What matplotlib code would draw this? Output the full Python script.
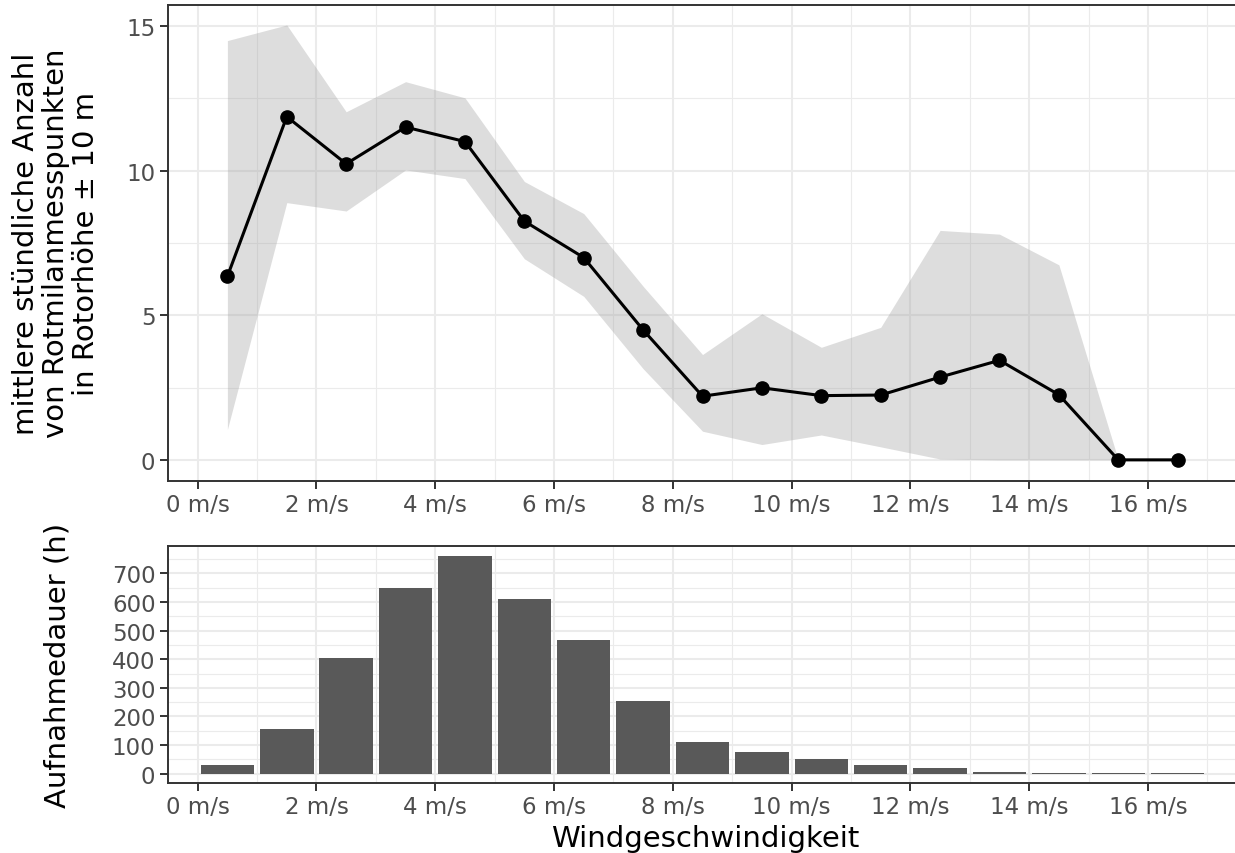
import numpy as np
import matplotlib
matplotlib.use('Agg')
import matplotlib.pyplot as plt
from matplotlib.ticker import MultipleLocator, FixedLocator

# wind speed classes (bin centres, m/s)
wind = [0.5, 1.5, 2.5, 3.5, 4.5, 5.5, 6.5, 7.5, 8.5, 9.5, 10.5, 11.5, 12.5, 13.5, 14.5, 15.5, 16.5]
mean_points = [6.34, 11.86, 10.23, 11.5, 11.0, 8.25, 6.99, 4.49, 2.2, 2.49, 2.22, 2.24, 2.86, 3.44, 2.25, 0.0, 0.0]
ci_upper = [14.49, 15.03, 12.03, 13.07, 12.51, 9.62, 8.51, 6.0, 3.64, 5.05, 3.89, 4.58, 7.93, 7.8, 6.74, 0.0, 0.0]
ci_lower = [1.05, 8.89, 8.6, 10.02, 9.72, 6.95, 5.65, 3.15, 0.99, 0.53, 0.86, 0.45, 0.03, 0.0, 0.0, 0.0, 0.0]
hours = [30, 155, 404, 648, 760, 609, 468, 254, 112, 75, 52, 31, 19, 6, 2.3, 1.2, 1.0]

xticks = [0, 2, 4, 6, 8, 10, 12, 14, 16]
xticklabels = [f'{v} m/s' for v in xticks]

plt.rcParams['font.family'] = ['DejaVu Sans']

W, H = 1235, 854
fig = plt.figure(figsize=(W / 100, H / 100), dpi=100)

ax_left = 168 / W
ax_width = 1075 / W
ax1 = fig.add_axes([ax_left, 1 - 481.7 / H, ax_width, 476 / H])
ax2 = fig.add_axes([ax_left, 1 - 783.7 / H, ax_width, 236.4 / H])

grid_col = '#EBEBEB'
border_col = '#333333'
tick_col = '#4D4D4D'

def style_axes(ax):
    ax.set_axisbelow(True)
    ax.set_facecolor('white')
    for s in ax.spines.values():
        s.set_color(border_col)
        s.set_linewidth(1.4)
    # panel is cut off on the right in the original
    ax.spines['right'].set_visible(False)
    ax.grid(which='major', color=grid_col, linewidth=1.5)
    ax.grid(which='minor', color=grid_col, linewidth=0.8)
    ax.tick_params(which='major', length=5.5, width=1.4, color=border_col,
                   labelsize=16.5, labelcolor=tick_col, pad=3.5)
    ax.tick_params(which='minor', length=0)
    ax.set_xlim(-0.5, 17.6)
    ax.set_xticks(xticks)
    ax.set_xticklabels(xticklabels)
    ax.xaxis.set_minor_locator(FixedLocator([1, 3, 5, 7, 9, 11, 13, 15, 17]))

# upper panel: mean count with ribbon
style_axes(ax1)
ax1.fill_between(wind, ci_lower, ci_upper, color='#999999', alpha=0.33, linewidth=0)
ax1.plot(wind, mean_points, color='black', linewidth=2.2)
ax1.plot(wind, mean_points, 'o', color='black', markersize=9.5)
ax1.set_ylim(-0.72, 15.73)
ax1.set_yticks([0, 5, 10, 15])
ax1.yaxis.set_minor_locator(FixedLocator([2.5, 7.5, 12.5]))
fig.text(56 / W, 1 - 243.7 / H,
         'mittlere stündliche Anzahl\nvon Rotmilanmesspunkten\nin Rotorhöhe ± 10 m',
         rotation=90, ha='center', va='center', multialignment='center',
         fontsize=21, linespacing=1.1)

# lower panel: recording duration per class
style_axes(ax2)
ax2.bar(wind, hours, width=0.9, color='#595959', linewidth=0)
ax2.set_ylim(-32, 795)
ax2.yaxis.set_major_locator(MultipleLocator(100))
ax2.yaxis.set_minor_locator(FixedLocator([50, 150, 250, 350, 450, 550, 650, 750]))
fig.text(58 / W, 1 - 665.5 / H, 'Aufnahmedauer (h)', rotation=90,
         ha='center', va='center', fontsize=21)
ax2.set_xlabel('Windgeschwindigkeit', fontsize=21, labelpad=4)

fig.savefig('out.png', dpi=100)
